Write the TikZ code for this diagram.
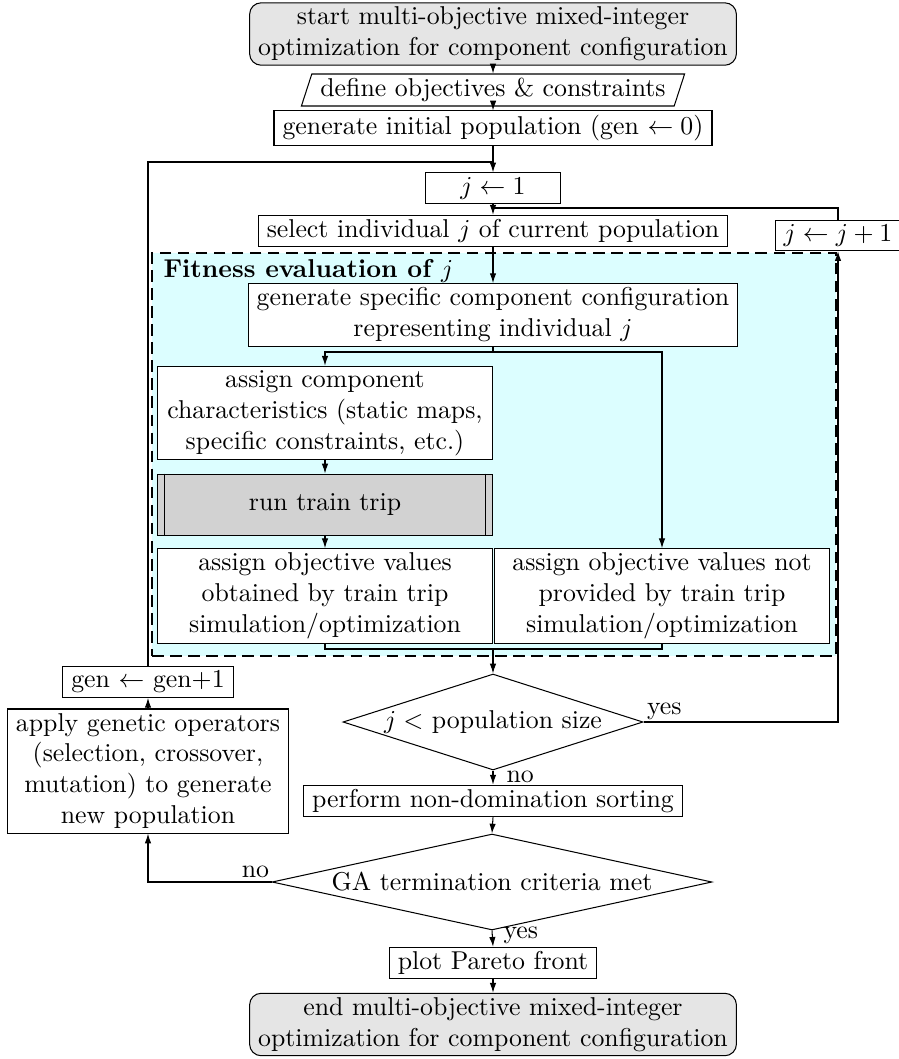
\documentclass[tikz,border=0pt]{standalone}
\usetikzlibrary{shapes.geometric,arrows.meta,calc}
\definecolor{fitfill}{RGB}{220,254,255}
\begin{document}
\begin{tikzpicture}[x=0.3876pt,y=-0.3876pt,
  box/.style={draw, line width=0.4pt, inner xsep=3.33pt, inner ysep=1.6pt, align=center},
  term/.style={box, rounded corners=4.5pt, fill=gray!20},
  io/.style={box, trapezium, trapezium left angle=72, trapezium right angle=108},
  proc/.style={box, fill=white},
  colbox/.style={proc, minimum width=129.5pt},
  predef/.style={box, fill=gray!35, minimum width=129.5pt, minimum height=24pt},
  decide/.style={diamond, draw, line width=0.4pt, inner sep=0pt, align=center},
  arr/.style={-{Latex[length=3.8pt,width=2.5pt]}, line width=0.4pt},
  conn/.style={line width=0.4pt},
  fitbox/.style={draw, fill=fitfill, line width=0.9pt, dash pattern=on 4.5pt off 2.5pt},
  lbl/.style={inner sep=0pt}
]
\useasboundingbox (0,0) rectangle (898,1059);

% fitness evaluation container
\node[fitbox, minimum width=265.1pt, minimum height=156.2pt] (fitness) at (494,454.5) {};
\node[lbl, anchor=base west] (fitlabel) at (163,277) {\bfseries Fitness evaluation of $j$};

% main column
\node[term] (start) at (493,34) {start multi-objective mixed-integer\\optimization for component configuration};
\node[io] (define) at (493,90) {define objectives \& constraints};
\node[proc] (geninit) at (493,128) {generate initial population (gen $\leftarrow 0$)};
\node[proc, minimum width=52pt] (jone) at (493,188) {$j \leftarrow 1$};
\node[proc] (select) at (493,231) {select individual $j$ of current population};
\node[proc] (jinc) at (838,235.5) {$j \leftarrow j+1$};

% inside the fitness evaluation
\node[proc] (genspec) at (493,315) {generate specific component configuration\\representing individual $j$};
\node[colbox] (assigncomp) at (325,413) {assign component\\characteristics (static maps,\\specific constraints, etc.)};
\node[predef] (run) at (325,505) {run train trip};
\draw[conn] ([xshift=2.9pt]run.north west) -- ([xshift=2.9pt]run.south west);
\draw[conn] ([xshift=-2.9pt]run.north east) -- ([xshift=-2.9pt]run.south east);
\node[colbox] (assignobt) at (325,596) {assign objective values\\obtained by train trip\\simulation/optimization};
\node[colbox] (assignnot) at (662,596) {assign objective values not\\provided by train trip\\simulation/optimization};

% decisions and closing steps
\node[decide, minimum width=116.3pt, minimum height=37.2pt, aspect=3.125] (dpop) at (493,722) {$j <$ population size};
\node[proc] (perform) at (493,801) {perform non-domination sorting};
\node[decide, minimum width=170.5pt, minimum height=37.2pt, aspect=4.58] (dterm) at (492,882) {GA termination criteria met};
\node[proc] (plot) at (493,963) {plot Pareto front};
\node[term] (finish) at (493,1024.5) {end multi-objective mixed-integer\\optimization for component configuration};

% generation loop on the left
\node[proc] (genp) at (148,682) {gen $\leftarrow$ gen+1};
\node[proc] (apply) at (148,771) {apply genetic operators\\(selection, crossover,\\mutation) to generate\\new population};

% junction points
\coordinate (loopjoin) at (493,162);
\coordinate (incjoin) at (493,208);
\coordinate (split) at (493,352);
\coordinate (merge) at (493,649);

% connectors
\draw[arr] (start.south) -- (define.north);
\draw[arr] (define.south) -- (geninit.north);
\draw[arr] (geninit.south) -- (jone.north);
\draw[conn] (genp.north) |- (loopjoin);
\draw[arr] (jone.south) -- (select.north);
\draw[conn] (jinc.north) |- (incjoin);
\draw[arr] (select.south) -- (genspec.north);
\draw[conn] (genspec.south) -- (split);
\draw[arr] (split) -| (assigncomp.north);
\draw[arr] (split) -| (assignnot.north);
\draw[arr] (assigncomp.south) -- (run.north);
\draw[arr] (run.south) -- (assignobt.north);
\draw[conn] (assignobt.south) |- (merge) -| (assignnot.south);
\draw[arr] (merge) -- (dpop.north);
\draw[arr] (dpop.east) -| (jinc.south);
\draw[arr] (dpop.south) -- (perform.north);
\draw[arr] (perform.south) -- (dterm.north);
\draw[arr] (dterm.west) -| (apply.south);
\draw[arr] (apply.north) -- (genp.south);
\draw[arr] (dterm.south) -- (plot.north);
\draw[arr] (plot.south) -- (finish.north);

% branch labels
\node[lbl, anchor=base west] (yespop) at ($(dpop.east)+(3,-8)$) {yes};
\node[lbl, anchor=base west] (nopop) at ($(dpop.south)+(13,12)$) {no};
\node[lbl, anchor=base east] (noterm) at ($(dterm.west)+(-2,-5)$) {no};
\node[lbl, anchor=base west] (yesterm) at ($(dterm.south)+(11,8)$) {yes};
\end{tikzpicture}
\end{document}
